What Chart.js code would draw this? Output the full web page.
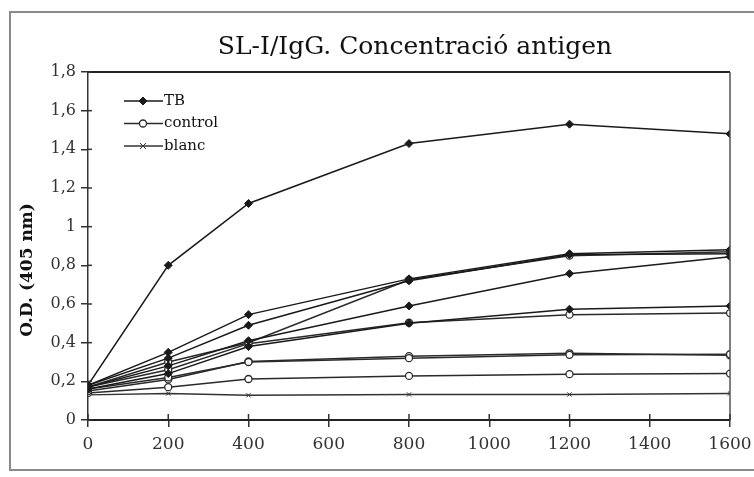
<!DOCTYPE html>
<html>
<head>
<meta charset="utf-8">
<script src="https://cdn.jsdelivr.net/npm/chart.js@4"></script>
<style>
  html, body { margin: 0; padding: 0; background: #fff; overflow: hidden; }
  #wrap { width: 754px; height: 477px; }
</style>
</head>
<body>
<div id="wrap"><canvas id="odChart" width="754" height="477"></canvas></div>
<script>
// antigen concentration (x) and O.D. readings (405 nm)
const concentrations = [0, 200, 400, 800, 1200, 1600];
const tb1 = [0.18, 0.80, 1.12, 1.43, 1.53, 1.48];
const tb2 = [0.18, 0.35, 0.545, 0.73, 0.86, 0.88];
const tb3 = [0.18, 0.32, 0.49, 0.72, 0.855, 0.86];
const tb4 = [0.17, 0.28, 0.41, 0.59, 0.757, 0.845];
const tb5 = [0.16, 0.24, 0.38, 0.50, 0.573, 0.59];
const control1 = [0.17, 0.30, 0.40, 0.725, 0.85, 0.87];
const control2 = [0.17, 0.26, 0.395, 0.503, 0.545, 0.553];
const control3 = [0.16, 0.22, 0.30, 0.32, 0.337, 0.34];
const control4 = [0.15, 0.21, 0.303, 0.33, 0.345, 0.335];
const control5 = [0.14, 0.17, 0.212, 0.228, 0.237, 0.24];
const blanc = [0.13, 0.137, 0.128, 0.132, 0.132, 0.137];
const xTicks = [0, 200, 400, 600, 800, 1000, 1200, 1400, 1600];
const yTicks = [0, 0.2, 0.4, 0.6, 0.8, 1, 1.2, 1.4, 1.6, 1.8];
const legendNames = ['TB', 'control', 'blanc'];

const SERIF = '"DejaVu Serif", "Liberation Serif", serif';

function pts(values) {
    return values.map((v, i) => ({ x: concentrations[i], y: v }));
}

const tbStyle = { borderColor: '#1a1a1a', backgroundColor: '#1a1a1a', pointStyle: 'rectRot', pointRadius: 4, borderWidth: 1.5, pointBorderWidth: 1 };
const ctrlStyle = { borderColor: '#2a2a2a', backgroundColor: '#ffffff', pointStyle: 'circle', pointRadius: 3.5, borderWidth: 1.5, pointBorderWidth: 1.3 };
const blancStyle = { borderColor: '#333333', backgroundColor: '#333333', pointStyle: 'crossRot', pointRadius: 3, borderWidth: 1.3, pointBorderWidth: 1 };

const series = [
    [tb1, tbStyle], [tb2, tbStyle], [tb3, tbStyle], [tb4, tbStyle], [tb5, tbStyle],
    [control1, ctrlStyle], [control2, ctrlStyle], [control3, ctrlStyle], [control4, ctrlStyle], [control5, ctrlStyle],
    [blanc, blancStyle]
];

// small marker for the hand-drawn legend
function marker(c, st, x, y) {
    const r = st.pointRadius;
    c.lineWidth = st.pointBorderWidth;
    c.strokeStyle = st.borderColor;
    c.fillStyle = st.backgroundColor;
    c.beginPath();
    if (st.pointStyle === 'circle') {
        c.arc(x, y, r, 0, Math.PI * 2);
        c.fill(); c.stroke();
    } else if (st.pointStyle === 'rectRot') {
        c.moveTo(x, y - r); c.lineTo(x + r, y); c.lineTo(x, y + r); c.lineTo(x - r, y); c.closePath();
        c.fill(); c.stroke();
    } else {
        c.moveTo(x - r, y - r); c.lineTo(x + r, y + r);
        c.moveTo(x + r, y - r); c.lineTo(x - r, y + r);
        c.stroke();
    }
}

const decor = {
    id: 'decor',
    afterDraw(chart) {
        const c = chart.ctx;
        const a = chart.chartArea;
        const xs = chart.scales.x, ys = chart.scales.y;
        c.save();
        // outer frame
        c.strokeStyle = '#8a8a8a';
        c.lineWidth = 2;
        c.beginPath();
        c.moveTo(800, 12); c.lineTo(10, 12); c.lineTo(10, 470); c.lineTo(800, 470);
        c.stroke();
        // plot top and right border
        c.strokeStyle = '#222';
        c.lineWidth = 2;
        c.beginPath(); c.moveTo(a.left, a.top); c.lineTo(a.right, a.top); c.stroke();
        c.strokeStyle = '#555';
        c.lineWidth = 1.5;
        c.beginPath(); c.moveTo(a.right, a.top); c.lineTo(a.right, a.bottom); c.stroke();
        // inner tick marks (ticks cross the axes)
        c.strokeStyle = '#333';
        c.lineWidth = 1.5;
        yTicks.forEach(v => {
            const y = ys.getPixelForValue(v);
            c.beginPath(); c.moveTo(a.left, y); c.lineTo(a.left + 4, y); c.stroke();
        });
        xTicks.forEach(v => {
            const x = xs.getPixelForValue(v);
            c.beginPath(); c.moveTo(x, a.bottom); c.lineTo(x, a.bottom - 6); c.stroke();
        });
        // title
        c.fillStyle = '#111';
        c.font = '25px ' + SERIF;
        c.textAlign = 'center';
        c.textBaseline = 'alphabetic';
        c.fillText('SL-I/IgG. Concentració antigen', 415, 54);
        // y axis title
        c.save();
        c.translate(28, 270);
        c.rotate(-Math.PI / 2);
        c.font = 'bold 17px ' + SERIF;
        c.textAlign = 'center';
        c.textBaseline = 'middle';
        c.fillText('O.D. (405 nm)', 0, 0);
        c.restore();
        // legend
        const styles = [tbStyle, ctrlStyle, blancStyle];
        c.font = '15px ' + SERIF;
        c.textAlign = 'left';
        c.textBaseline = 'middle';
        legendNames.forEach((name, i) => {
            const y = 101 + i * 22.5;
            const st = styles[i];
            c.strokeStyle = st.borderColor;
            c.lineWidth = 1.5;
            c.beginPath(); c.moveTo(124, y); c.lineTo(163, y); c.stroke();
            marker(c, st, 143, y);
            c.fillStyle = '#111';
            c.fillText(name, 164, y);
        });
        c.restore();
    }
};

new Chart(document.getElementById('odChart').getContext('2d'), {
    type: 'line',
    data: {
        datasets: series.map(([vals, st], i) => ({
            label: 's' + i,
            data: pts(vals),
            tension: 0,
            fill: false,
            ...st,
            pointBorderColor: st.borderColor,
            pointBackgroundColor: st.backgroundColor
        }))
    },
    options: {
        responsive: false,
        animation: false,
        layout: { padding: { top: 72, right: 24, left: 0, bottom: 0 } },
        plugins: { legend: { display: false }, tooltip: { enabled: false }, title: { display: false } },
        scales: {
            x: {
                type: 'linear',
                min: 0, max: 1600,
                afterBuildTicks: s => { s.ticks = xTicks.map(v => ({ value: v })); },
                afterFit: s => { s.height = 57; s.paddingRight = 0; s.paddingLeft = 0; },
                grid: { drawOnChartArea: false, color: '#333', tickLength: 7, lineWidth: 1.5 },
                border: { color: '#222', width: 2 },
                ticks: { color: '#333', font: { family: SERIF, size: 17 }, padding: 7, maxRotation: 0, callback: v => String(v) }
            },
            y: {
                min: 0, max: 1.8,
                afterBuildTicks: s => { s.ticks = yTicks.map(v => ({ value: v })); },
                afterFit: s => { s.width = 88; s.paddingTop = 0; s.paddingBottom = 0; },
                grid: { drawOnChartArea: false, color: '#333', tickLength: 7, lineWidth: 1.5 },
                border: { color: '#333', width: 1.5 },
                ticks: {
                    color: '#333', font: { family: SERIF, size: 16 }, padding: 5,
                    callback: v => String(Math.round(v * 10) / 10).replace('.', ',')
                }
            }
        }
    },
    plugins: [decor]
});
</script>
</body>
</html>
